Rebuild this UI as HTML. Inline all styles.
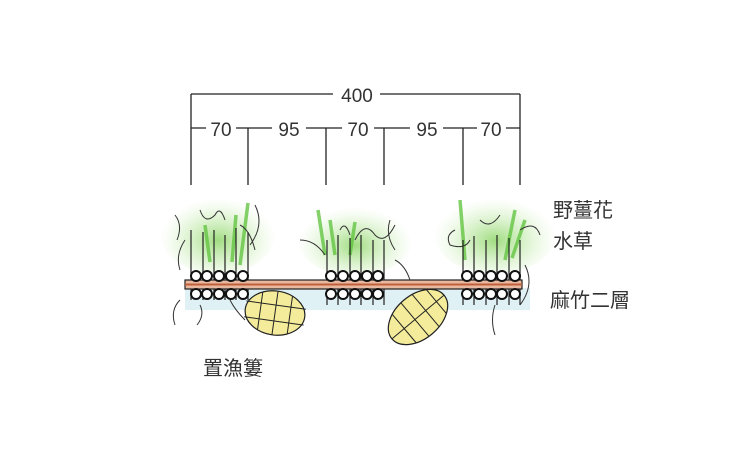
<!DOCTYPE html>
<html><head><meta charset="utf-8"><style>
html,body{margin:0;padding:0;background:#fff;width:740px;height:450px;overflow:hidden}
svg{display:block}
text{font-family:"Liberation Sans","Noto Sans CJK TC",sans-serif;fill:#333}
</style></head><body>
<svg width="740" height="450" viewBox="0 0 740 450">
<defs>
<radialGradient id="g" cx="50%" cy="60%" r="50%"><stop offset="0" stop-color="#8fd66a" stop-opacity=".85"/><stop offset="1" stop-color="#c8eeb0" stop-opacity="0"/></radialGradient>
</defs>
<rect x="185" y="288" width="345" height="22" fill="#d8eef4" opacity=".8"/>
<ellipse cx="218" cy="232" rx="58" ry="42" fill="url(#g)"/>
<ellipse cx="355" cy="238" rx="58" ry="38" fill="url(#g)"/>
<ellipse cx="495" cy="232" rx="62" ry="42" fill="url(#g)"/>
<g stroke="#5cc23a" stroke-width="3.5" fill="none" opacity=".75">
<path d="M240 265 L248 203"/><path d="M232 262 L236 215"/><path d="M325 255 L318 210"/><path d="M335 255 L330 220"/><path d="M465 260 L460 200"/><path d="M505 260 L515 210"/><path d="M512 258 L525 220"/><path d="M350 255 L355 222"/><path d="M210 262 L205 225"/>
</g>
<g stroke="#222" stroke-width="1.3" fill="none">
<path d="M191 94 H333 M380 94 H520 M191 94 V185 M520 94 V185"/>
<path d="M191 128 H206 M236 128 H272 M306 128 H342 M374 128 H410 M443 128 H477 M506 128 H520"/>
<path d="M248 128 V185 M326 128 V185 M384 128 V185 M463 128 V185"/>
</g>
<g font-size="19" text-anchor="middle">
<text x="357" y="102">400</text>
<text x="221" y="136">70</text><text x="289" y="136">95</text><text x="358" y="136">70</text><text x="427" y="136">95</text><text x="491" y="136">70</text>
</g>
<g stroke="#222" stroke-width="1.2">
<path d="M191 230V300 M203 232V300 M214 230V300 M225 235V300 M236 228V300 M248 232V300"/>
<path d="M327 240V305 M338 235V305 M350 238V305 M361 235V305 M373 240V305 M384 240V305"/>
<path d="M463 240V305 M474 236V305 M486 240V305 M497 235V305 M509 238V305 M520 240V305"/>
</g>
<rect x="185" y="280" width="337" height="9" fill="#e8b8a0" stroke="#222" stroke-width="1.2"/>
<line x1="185" y1="284.5" x2="522" y2="284.5" stroke="#c0603a" stroke-width="2"/>
<g fill="#fff" stroke="#111" stroke-width="2">
<circle cx="196" cy="276" r="5"/><circle cx="207" cy="276" r="5"/><circle cx="219" cy="276" r="5"/><circle cx="231" cy="276" r="5"/><circle cx="243" cy="276" r="5"/>
<circle cx="196" cy="294" r="5"/><circle cx="207" cy="294" r="5"/><circle cx="219" cy="294" r="5"/><circle cx="231" cy="294" r="5"/><circle cx="243" cy="294" r="5"/>
<circle cx="331" cy="276" r="5"/><circle cx="343" cy="276" r="5"/><circle cx="355" cy="276" r="5"/><circle cx="367" cy="276" r="5"/><circle cx="378" cy="276" r="5"/>
<circle cx="331" cy="294" r="5"/><circle cx="343" cy="294" r="5"/><circle cx="355" cy="294" r="5"/><circle cx="367" cy="294" r="5"/><circle cx="378" cy="294" r="5"/>
<circle cx="467" cy="276" r="5"/><circle cx="479" cy="276" r="5"/><circle cx="491" cy="276" r="5"/><circle cx="502" cy="276" r="5"/><circle cx="515" cy="276" r="5"/>
<circle cx="467" cy="294" r="5"/><circle cx="479" cy="294" r="5"/><circle cx="491" cy="294" r="5"/><circle cx="502" cy="294" r="5"/><circle cx="515" cy="294" r="5"/>
</g>
<g stroke="#333" stroke-width="1" fill="none">
<path d="M175 215 q8 10 2 25 M185 240 q-10 15 -5 30 M200 210 q5 15 15 5 q5 -10 10 5 M255 205 q10 20 -5 40 M240 225 q10 5 15 25"/>
<path d="M180 300 q-10 10 -5 25 M200 305 q5 10 -3 20 M230 300 q5 10 15 20"/>
<path d="M300 240 q15 0 25 15 M355 240 q10 -20 20 -5 q10 10 20 -10 M390 220 q-5 15 5 30 M395 260 q10 5 15 20 M340 230 q5 -10 10 5"/>
<path d="M455 230 q-10 5 -5 15 q15 5 20 -5 M480 220 q10 10 20 -5 M520 230 q15 -10 20 5 M525 265 q10 20 -5 40 M495 305 q-5 15 0 30"/>
</g>
<g transform="translate(275,313) rotate(8)">
<ellipse cx="0" cy="0" rx="30" ry="22" fill="#f4ec9a" stroke="#222" stroke-width="1.2"/>
<g stroke="#222" stroke-width="1" fill="none"><path d="M-15 -19 V19 M0 -22 V22 M15 -19 V19 M-30 -8 H30 M-30 8 H30"/></g>
</g>
<g transform="translate(418,317) rotate(-40)">
<ellipse cx="0" cy="0" rx="34" ry="22" fill="#f4ec9a" stroke="#222" stroke-width="1.2"/>
<g stroke="#222" stroke-width="1" fill="none"><path d="M-18 -19 V19 M-4 -22 V22 M10 -21 V21 M24 -16 V16 M-34 0 H34"/></g>
</g>
<g font-size="20">
<text x="553" y="217">野薑花</text>
<text x="553" y="248">水草</text>
<text x="550" y="307">麻竹二層</text>
<text x="203" y="375">置漁簍</text>
</g>
</svg>
</body></html>
